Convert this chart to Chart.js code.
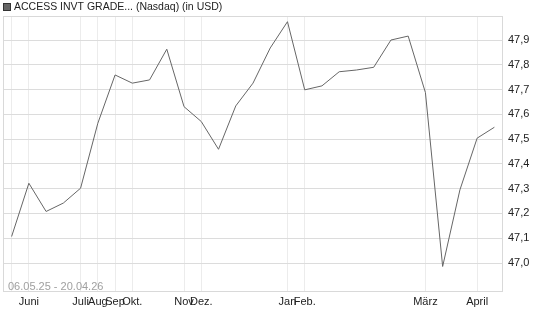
<!DOCTYPE html>
<html>
<head>
<meta charset="utf-8">
<script src="https://cdn.jsdelivr.net/npm/chart.js@4"></script>
<style>
html,body{margin:0;padding:0;background:#fff;}
#wrap{width:545px;height:327px;position:relative;}
</style>
</head>
<body>
<div id="wrap"><canvas id="c" width="545" height="327"></canvas></div>
<script>
// Data (closing prices, roughly biweekly points)
const values = [47.107, 47.322, 47.208, 47.242, 47.302, 47.564, 47.759, 47.726, 47.739, 47.863,
                47.631, 47.571, 47.459, 47.634, 47.726, 47.868, 47.974, 47.699, 47.715, 47.772,
                47.779, 47.790, 47.900, 47.916, 47.688, 46.986, 47.295, 47.504, 47.548];
const monthTickIdx = [0, 1, 4, 5, 6, 7, 10, 11, 16, 17, 24, 27];
const monthLabels = ["", "Juni", "Juli", "Aug", "Sep", "Okt.", "Nov", "Dez.", "Jan", "Feb.", "März", "April"];
const yTicks = [47.0, 47.1, 47.2, 47.3, 47.4, 47.5, 47.6, 47.7, 47.8, 47.9];
const titleText = "ACCESS INVT GRADE... (Nasdaq) (in USD)";
const rangeText = "06.05.25 - 20.04.26";

const pts = values.map((v, i) => ({x: i, y: v}));
const FONT = "'Liberation Sans', Arial, sans-serif";

const decor = {
  id: 'decor',
  beforeDatasetsDraw(chart) {
    const {ctx, chartArea: a} = chart;
    ctx.save();
    ctx.strokeStyle = '#d9d9d9';
    ctx.lineWidth = 1;
    ctx.strokeRect(Math.round(a.left) + 0.5, Math.round(a.top) + 0.5, Math.round(a.right - a.left) - 1, Math.round(a.bottom - a.top) - 1);
    ctx.fillStyle = '#a0a0a0';
    ctx.font = '11px ' + FONT;
    ctx.textBaseline = 'middle';
    ctx.fillText(rangeText, 8, 287);
    ctx.restore();
  },
  afterDraw(chart) {
    const ctx = chart.ctx;
    ctx.save();
    ctx.fillStyle = '#666';
    ctx.fillRect(3, 3, 8, 8);
    ctx.strokeStyle = '#333';
    ctx.lineWidth = 1;
    ctx.strokeRect(3.5, 3.5, 7, 7);
    ctx.fillStyle = '#222';
    ctx.font = '10.5px ' + FONT;
    ctx.textBaseline = 'middle';
    ctx.fillText(titleText, 14, 7.5);
    ctx.restore();
  }
};

new Chart(document.getElementById('c'), {
  type: 'line',
  data: {
    datasets: [{
      data: pts,
      borderColor: '#666',
      borderWidth: 1,
      pointRadius: 0,
      fill: false,
      tension: 0
    }]
  },
  options: {
    responsive: false,
    animation: false,
    devicePixelRatio: 1,
    layout: {padding: {left: 3, top: 16, right: 0, bottom: 0}},
    plugins: {legend: {display: false}, tooltip: {enabled: false}},
    scales: {
      x: {
        type: 'linear',
        min: -0.5,
        max: 28.5,
        afterBuildTicks(s) { s.ticks = monthTickIdx.map(v => ({value: v})); },
        afterFit(s) { s.height = 35; },
        grid: {color: '#ececec', drawTicks: false},
        border: {display: false},
        ticks: {
          autoSkip: false,
          maxRotation: 0,
          padding: 3,
          color: '#222',
          font: {family: FONT, size: 11},
          callback(v) { const k = monthTickIdx.indexOf(v); return k >= 0 ? monthLabels[k] : ''; }
        }
      },
      y: {
        position: 'right',
        min: 46.883,
        max: 47.997,
        afterBuildTicks(s) { s.ticks = yTicks.map(v => ({value: v})); },
        afterFit(s) { s.width = 42; },
        grid: {color: '#dcdcdc', drawTicks: false},
        border: {display: false},
        ticks: {
          padding: 5,
          color: '#222',
          font: {family: FONT, size: 11},
          callback(v) { return v.toFixed(1).replace('.', ','); }
        }
      }
    }
  },
  plugins: [decor]
});
</script>
</body>
</html>
